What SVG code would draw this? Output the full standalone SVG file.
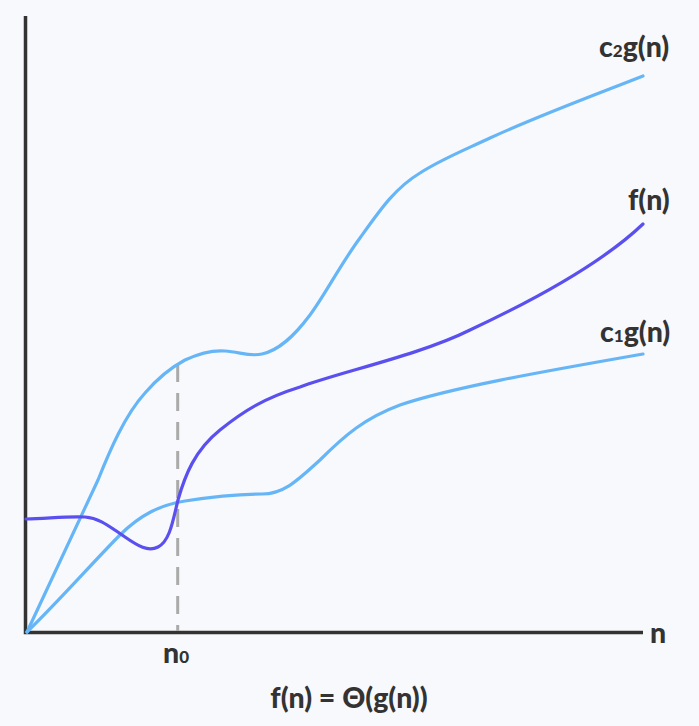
<svg xmlns="http://www.w3.org/2000/svg" width="699" height="726" viewBox="0 0 699 726">
<style>
text{font-family:Lato,"Noto Sans",sans-serif;font-weight:900;font-size:28.5px;fill:#333}
.sub{font-size:17px}
.c{fill:none;stroke-width:3.2;stroke-linecap:round;stroke-linejoin:round}
.g{stroke:#66b6f7}
.f{stroke:#5a50ef}
</style>
<rect width="699" height="726" fill="#f8f9fc"/>
<g id="axes">
<path d="M25.5,16 V632.5 H643" fill="none" stroke="#333" stroke-width="3.5"/>
<line x1="177.7" y1="364" x2="177.7" y2="631" stroke="#aaa" stroke-width="3" stroke-dasharray="18 11"/>
</g>
<g id="connectors">
<path id="c2" class="c g" d="M27,632 L98,480 C110,450 125,415 145,393 C158,378 170,368 185,360 C200,353 212,350 225,351 C240,352 250,357 262,354 C280,350 295,335 310,315 C325,295 340,265 360,238 C380,210 395,188 420,173 C440,160 460,152 490,138 C540,115 600,93 643,76"/>
<path id="c1" class="c g" d="M27,632 C60,600 95,560 120,535 C140,515 160,505 185,501 C210,497 235,494 262,494 C285,494 300,478 320,460 C345,435 365,418 400,405 C450,388 540,372 643,354"/>
<path id="fn" class="c f" d="M26,519 C45,519 65,516 85,517 C100,518 110,527 125,537 C138,546 148,552 158,547 C170,541 173,520 178,500 C185,475 195,450 220,430 C245,410 265,398 300,387 C340,372 420,355 470,330 C530,302 600,265 643,224"/>
</g>
<g id="label-c2"><text x="599" y="57">c<tspan class="sub">2</tspan>g(n)</text></g>
<g id="label-f"><text x="628" y="210">f(n)</text></g>
<g id="label-c1"><text x="600" y="342">c<tspan class="sub">1</tspan>g(n)</text></g>
<g id="label-n"><text x="650" y="643">n</text></g>
<g id="label-n0"><text x="163" y="663">n<tspan class="sub">0</tspan></text></g>
<g id="caption"><text x="349" y="708" text-anchor="middle">f(n) = Θ(g(n))</text></g>
</svg>
